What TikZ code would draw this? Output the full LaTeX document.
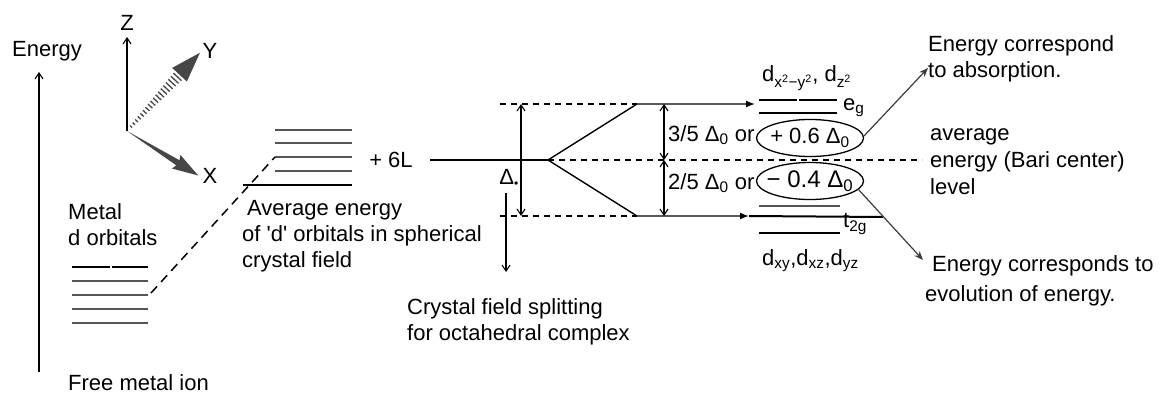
\documentclass[tikz,border=0pt]{standalone}
\usepackage{fontspec}
\setmainfont{Liberation Sans}
\usepackage{tikz}
\usetikzlibrary{arrows.meta}
\definecolor{levelGray} {RGB}{85, 85, 85}
\definecolor{wedgeGray} {RGB}{70, 70, 70}
\definecolor{pointGray} {RGB}{60, 60, 60}

\begin{document}
\begin{tikzpicture}[x=1pt,y=-1pt,
    lbl/.style={font=\fontsize{22}{26}\selectfont,inner sep=0pt},
    lvl/.style={black,line width=2pt},
    lvlgray/.style={levelGray,line width=1.8pt},
    guide/.style={dash pattern=on 6pt off 5pt,line width=1.1pt},
    barbup/.style={-{Straight Barb[length=6pt,width=8pt]},line width=1.1pt},
    barbboth/.style={{Straight Barb[length=6pt,width=8pt]}-{Straight Barb[length=6pt,width=8pt]},line width=1.1pt},
    splitline/.style={-{Latex[length=9pt,width=7pt]},line width=1.4pt},
    pointer/.style={-{Stealth[length=9pt,width=7pt]},pointGray,line width=1.2pt}]
        \useasboundingbox (0,0) rectangle (1161,393);

        % energy axis
        \coordinate (eBot) at (39,372);
        \coordinate (eTop) at (39,72);
        \draw[barbup] (eBot) -- (eTop);
        \node[lbl,anchor=base west] (energy) at (12,57) {Energy};
        \node[lbl,anchor=base west] (free) at (68,390) {Free metal ion};

        % axes
        \coordinate (O) at (127,131);
        \coordinate (zTip) at (127,37);
        \draw[barbup] (O) -- (zTip);
        \node[lbl] (zLbl) at (127,23) {Z};
        \node[lbl] (yLbl) at (210,51) {Y};
        \node[lbl] (xLbl) at (210,176) {X};
        \begin{scope}[shift={(O)},rotate=47]
          \foreach \s in {6,10,...,74}{
            \draw[wedgeGray,line width=1.3pt] (\s,{-(1+0.06*\s)}) -- (\s,{1+0.06*\s});
          }
          \fill[wedgeGray] (77,-10) -- (107,0) -- (77,10) -- cycle;
        \end{scope}
        \begin{scope}[shift={(O)},rotate=-32]
          \fill[wedgeGray] (0,0) -- (60,-3) -- (58,-8) -- (84,0)
            -- (58,8) -- (60,3) -- cycle;
        \end{scope}

        % free ion d levels
        \node[lbl,anchor=north west,align=left] (metal) at (68,203) {Metal\\d orbitals};
        \draw[lvl] (72,267) -- (110,267);
        \draw[lvl] (112,267) -- (148,267);
        \foreach \y in {281,295,309,323}{
          \draw[lvlgray] (72,\y) -- (148,\y);
        }
        \coordinate (freeMid) at (151,293);

        % spherical field
        \foreach \y in {130,143,157,171}{
          \draw[lvlgray] (275,\y) -- (352,\y);
        }
        \draw[lvl] (243,185) -- (352,185);
        \coordinate (sphMid) at (275,157);
        \draw[dash pattern=on 9pt off 6pt,line width=1.5pt] (freeMid) -- (sphMid);
        \node[lbl,anchor=north west,align=left] (avgTxt) at (242,200)
          {\hspace*{5pt}Average energy\\of \textquotesingle d\textquotesingle{} orbitals in spherical\\crystal field};
        \node[lbl] (sixL) at (391,160) {+ 6L};

        % octahedral splitting
        \coordinate (sphR) at (430,160);
        \coordinate (split) at (548,160);
        \coordinate (egL) at (637,104);
        \coordinate (t2L) at (637,216);
        \coordinate (egA) at (755,104);
        \coordinate (t2A) at (749,216);
        \coordinate (topD) at (500,104);
        \coordinate (botD) at (500,216);
        \coordinate (midD) at (922,160);
        \draw[line width=1.4pt] (sphR) -- (split);
        \draw[splitline] (split) -- (egL) -- (egA);
        \draw[splitline] (split) -- (t2L) -- (t2A);
        \draw[guide] (topD) -- (egL);
        \draw[guide] (botD) -- (t2L);
        \draw[guide] (split) -- (midD);

        \coordinate (dTop) at (521,104);
        \coordinate (dBot) at (521,216);
        \draw[barbboth] (dTop) -- (dBot);
        \node[lbl,anchor=east] (deltaO) at (519,178) {Δ\textsubscript{\large\textbullet}};
        \coordinate (downTop) at (506,193);
        \coordinate (downBot) at (506,272);
        \draw[barbup] (downTop) -- (downBot);
        \node[lbl,anchor=north west,align=left] (cfTxt) at (407,298)
          {Crystal field splitting\\for octahedral complex};

        \coordinate (upT) at (664,104);
        \coordinate (upM) at (664,160);
        \coordinate (upB) at (664,216);
        \draw[barbboth] (upT) -- (upM);
        \draw[barbboth] (upM) -- (upB);
        \node[lbl,anchor=base west] (upFrac) at (668,141) {3/5 Δ\textsubscript{0} or};
        \node[lbl,anchor=base west] (dnFrac) at (668,189) {2/5 Δ\textsubscript{0} or};

        \node[lbl] (plusE) at (810,138) {+ 0.6 Δ\textsubscript{0}};
        \node[font=\fontsize{24}{28}\selectfont,inner sep=0pt] (minusE) at (810,181) {− 0.4 Δ\textsubscript{0}};
        \draw[line width=1.3pt] (plusE.center) ellipse [x radius=53.5, y radius=18.5];
        \draw[line width=1.3pt] (minusE.center) ellipse [x radius=53.5, y radius=18.5];

        % split levels
        \draw[lvl] (759,100) -- (797,100);
        \draw[lvl] (799,100) -- (837,100);
        \draw[lvl] (759,113) -- (837,113);
        \draw[lvlgray] (759,206) -- (840,206);
        \draw[lvl] (t2A) -- (883,217);
        \draw[lvl] (759,233) -- (840,233);
        \node[lbl,anchor=base west] (egOrb) at (762,82)
          {d\textsubscript{x\textsuperscript{2}−y\textsuperscript{2}}, d\textsubscript{z\textsuperscript{2}}};
        \node[lbl,anchor=west] (egTxt) at (843,108) {e\textsubscript{g}};
        \node[lbl,anchor=west] (t2gTxt) at (843,224) {t\textsubscript{2g}};
        \node[lbl,anchor=base west] (t2Orb) at (762,265)
          {d\textsubscript{xy},d\textsubscript{xz},d\textsubscript{yz}};

        % notes on the right
        \coordinate (plusR) at (864,136);
        \coordinate (absTip) at (928,68);
        \coordinate (minusR) at (858,189);
        \coordinate (evoTip) at (923,260);
        \draw[pointer] (plusR) -- (absTip);
        \draw[pointer] (minusR) -- (evoTip);
        \node[lbl,anchor=north west,align=left] (absTxt) at (928,35)
          {Energy correspond\\to absorption.};
        \node[font=\fontsize{22}{27}\selectfont,inner sep=0pt,anchor=north west,align=left] (bariTxt) at (930,128)
          {average\\energy (Bari center)\\level};
        \node[font=\fontsize{22}{30}\selectfont,inner sep=0pt,anchor=north west,align=left] (evoTxt) at (925,255)
          {\hspace*{7pt}Energy corresponds to\\evolution of energy.};
      \end{tikzpicture}
\end{document}
